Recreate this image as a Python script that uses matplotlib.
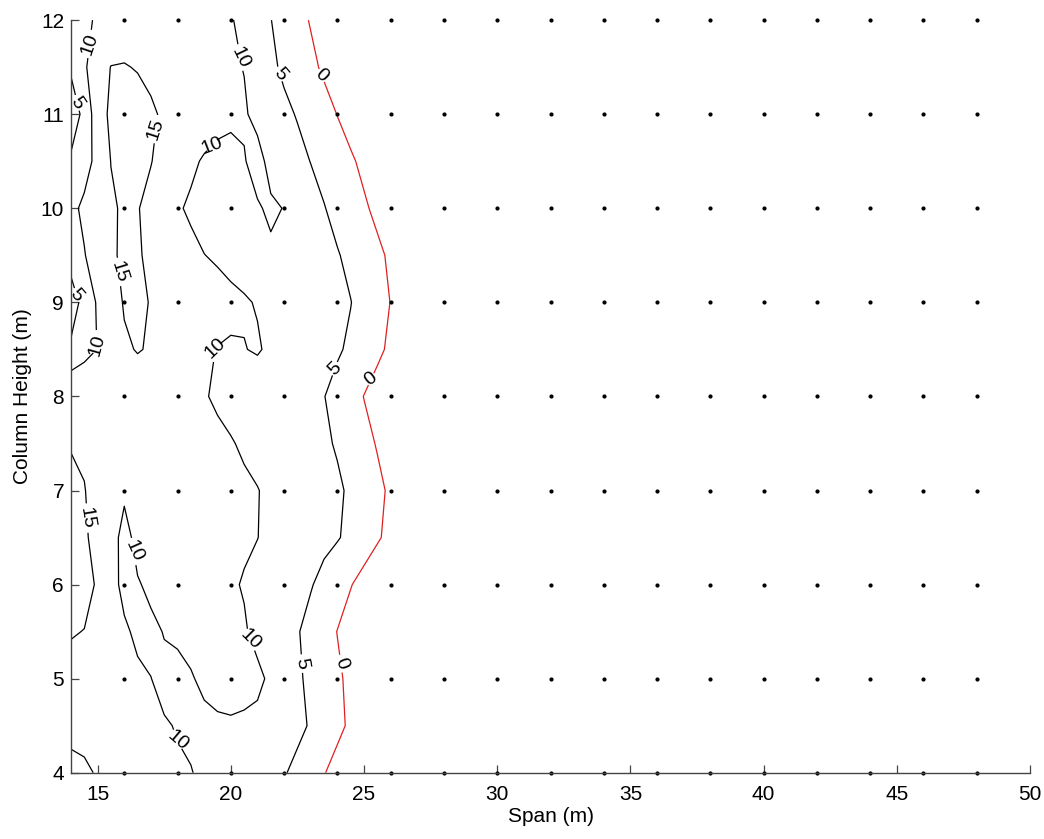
import matplotlib
matplotlib.use("Agg")
import matplotlib.pyplot as plt
import numpy as np

plt.rcParams["font.family"] = ["Liberation Sans", "DejaVu Sans"]

span = [14.0, 14.5, 15.0, 15.5, 16.0, 16.5, 17.0, 17.5, 18.0, 18.5, 19.0, 19.5, 20.0, 20.5,
        21.0, 21.5, 22.0, 22.5, 23.0, 23.5, 24.0, 24.5, 25.0, 25.5, 26.0, 26.5, 27.0]
height = [4.0, 4.5, 5.0, 5.5, 6.0, 6.5, 7.0, 7.5, 8.0, 8.5, 9.0, 9.5, 10.0, 10.5, 11.0, 11.5, 12.0]

margin = [
    [8.0, 9.0, 10.5, 11.0, 11.0, 10.9, 10.8, 10.6, 10.4, 10.1, 9.5, 9.2, 9.0, 8.8, 8.3, 7.3, 5.4, 3.6, 1.9, 0.2, -1.5, -3.2, -4.8, -6.5, -8.2, -9.8, -11.5],
    [12.0, 12.0, 11.8, 11.5, 11.2, 10.9, 10.6, 10.3, 9.8, 9.5, 9.4, 9.7, 9.8, 9.7, 9.3, 8.7, 7.8, 6.3, 4.5, 2.8, 1.0, -0.7, -2.3, -4.0, -5.7, -7.3, -9.0],
    [13.5, 13.0, 12.5, 12.0, 11.5, 10.9, 10.05, 9.0, 9.0, 9.8, 10.5, 10.7, 10.7, 10.6, 10.6, 9.5, 7.6, 5.7, 4.0, 2.3, 0.7, -1.0, -2.7, -4.3, -6.0, -7.7, -9.3],
    [15.3, 14.9, 13.5, 12.0, 10.8, 9.0, 9.0, 10.2, 10.6, 10.8, 10.8, 10.7, 10.5, 10.3, 9.2, 7.9, 6.6, 5.3, 3.6, 1.8, -0.1, -1.8, -3.4, -5.1, -6.8, -8.4, -10.1],
    [17.5, 16.5, 14.5, 12.0, 8.5, 9.6, 11.0, 11.3, 11.3, 11.2, 11.0, 10.7, 10.35, 9.8, 8.9, 8.0, 7.1, 6.2, 5.3, 3.7, 2.0, 0.2, -1.5, -3.2, -4.8, -6.5, -8.2],
    [17.5, 15.8, 13.1, 12.5, 8.0, 11.7, 11.9, 11.9, 11.8, 11.6, 11.4, 11.1, 10.8, 10.4, 10.05, 9.2, 8.4, 7.7, 6.9, 6.1, 5.3, 4.0, 2.2, 0.5, -1.2, -2.8, -4.5],
    [17.0, 15.2, 13.0, 12.0, 11.0, 11.5, 11.8, 11.9, 11.8, 11.6, 11.4, 11.2, 10.9, 10.5, 10.1, 9.4, 8.6, 7.8, 7.1, 6.3, 5.5, 4.5, 2.8, 1.0, -0.7, -2.3, -4.0],
    [14.5, 14.2, 14.0, 13.6, 13.2, 12.9, 12.5, 12.1, 11.7, 11.3, 11.0, 10.6, 10.2, 9.6, 9.0, 8.3, 7.6, 6.9, 6.2, 5.5, 4.7, 3.0, 1.3, -0.3, -2.0, -3.7, -5.3],
    [14.8, 14.0, 13.6, 13.3, 13.1, 13.0, 12.8, 12.2, 11.5, 10.8, 10.2, 9.6, 9.0, 8.5, 7.9, 7.3, 6.8, 6.2, 5.7, 5.1, 3.6, 1.8, -0.1, -1.7, -3.3, -5.0, -6.7],
    [6.0, 8.5, 10.1, 12.2, 14.5, 15.2, 14.7, 13.0, 12.2, 11.3, 10.5, 9.9, 9.7, 9.9, 10.3, 9.4, 8.6, 7.8, 7.0, 6.2, 5.5, 4.3, 2.6, 0.9, -0.8, -2.5, -4.2],
    [2.0, 7.1, 10.5, 13.2, 15.3, 15.8, 14.8, 13.6, 12.5, 12.1, 11.6, 11.2, 10.7, 10.3, 9.8, 9.1, 8.4, 7.8, 7.1, 6.4, 5.7, 5.1, 3.4, 1.7, -0.1, -1.7, -3.3],
    [7.5, 9.8, 12.1, 14.4, 15.7, 15.4, 14.2, 12.8, 11.7, 10.9, 10.05, 9.6, 9.1, 8.7, 9.1, 9.5, 8.7, 7.8, 7.0, 6.1, 5.3, 3.9, 2.4, 0.9, -0.7, -2.3, -4.0],
    [9.0, 10.8, 12.6, 14.3, 15.7, 15.2, 13.8, 12.2, 10.4, 9.45, 8.7, 8.0, 8.4, 8.9, 9.7, 10.5, 9.9, 8.2, 6.7, 5.2, 3.6, 2.1, 0.6, -1.0, -2.7, -4.3, -6.0],
    [6.0, 8.4, 11.2, 15.1, 15.9, 16.1, 15.15, 13.5, 12.0, 10.7, 9.6, 8.8, 8.9, 9.8, 11.2, 8.9, 7.6, 6.3, 4.9, 3.5, 2.1, 0.6, -1.0, -2.7, -4.3, -6.0, -7.7],
    [1.0, 6.9, 12.5, 16.0, 16.8, 16.4, 15.5, 14.5, 13.5, 12.8, 12.1, 11.4, 10.7, 10.4, 9.0, 7.3, 6.0, 4.7, 3.1, 1.6, -0.1, -1.8, -3.4, -5.1, -6.8, -8.4, -10.1],
    [6.0, 9.3, 13.1, 15.1, 15.2, 14.8, 14.2, 13.5, 12.9, 12.3, 11.7, 11.1, 10.5, 9.9, 7.8, 5.9, 4.2, 2.6, 1.0, -0.7, -2.3, -4.0, -5.7, -7.3, -9.0, -10.7, -12.3],
    [8.0, 9.2, 10.5, 11.8, 13.0, 13.0, 13.0, 13.0, 12.5, 11.9, 11.4, 10.8, 10.3, 8.9, 7.0, 5.1, 3.2, 1.4, -0.3, -2.0, -3.7, -5.3, -7.0, -8.7, -10.3, -12.0, -13.7],
]

levels = [0, 5, 10, 15]
level_colors = ["#e02020", "black", "black", "black"]

# where the inline labels sit
label_positions = [
    (14.65, 11.76), (14.1, 11.05), (17.35, 10.8), (20.35, 11.6), (21.8, 11.4), (23.4, 11.4),
    (19.3, 10.65), (15.5, 9.25), (14.1, 9.0), (15.0, 8.55), (19.4, 8.55), (23.9, 8.3),
    (25.2, 8.25), (14.55, 6.7), (16.35, 6.35), (20.8, 5.45), (22.6, 5.15), (24.1, 5.15),
    (18.0, 4.35),
]

# analysis grid points shown as dots
sample_span = [16, 18, 20, 22, 24, 26, 28, 30, 32, 34, 36, 38, 40, 42, 44, 46, 48]
sample_height = [4, 5, 6, 7, 8, 9, 10, 11, 12]

fig = plt.figure(figsize=(10.44, 8.39), dpi=100)
ax = fig.add_axes([0.068, 0.079, 0.9186, 0.897])

cs = ax.contour(span, height, np.array(margin), levels=levels,
                colors=level_colors, linewidths=0.9)
ax.clabel(cs, levels, inline=True, inline_spacing=4, fmt="%d", fontsize=14,
          colors="black", manual=label_positions)

gx, gy = np.meshgrid(sample_span, sample_height)
ax.plot(gx.ravel(), gy.ravel(), linestyle="none", marker="o", markersize=2.0,
        color="black", clip_on=False)

ax.set_xlim(14, 50)
ax.set_ylim(4, 12)
ax.set_xticks([15, 20, 25, 30, 35, 40, 45, 50])
ax.set_yticks([4, 5, 6, 7, 8, 9, 10, 11, 12])
ax.tick_params(direction="in", length=6, width=0.9, labelsize=15, colors="#444444",
               labelcolor="black")
ax.tick_params(axis="x", pad=9)
ax.tick_params(axis="y", pad=5)
ax.spines["top"].set_visible(False)
ax.spines["right"].set_visible(False)
for side in ("left", "bottom"):
    ax.spines[side].set_linewidth(1.0)
    ax.spines[side].set_color("#444444")

ax.set_xlabel("Span (m)", fontsize=15, labelpad=2)
ax.set_ylabel("Column Height (m)", fontsize=15, labelpad=6)

fig.savefig("out.png", dpi=100)
